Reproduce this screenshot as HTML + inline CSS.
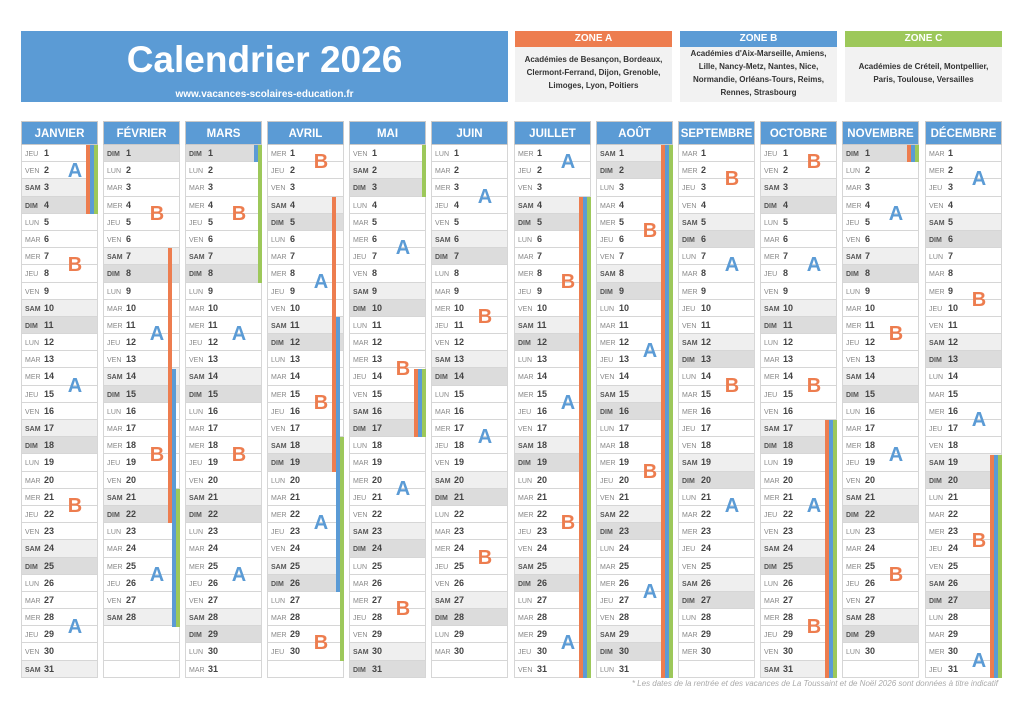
<!DOCTYPE html>
<html><head><meta charset="utf-8"><style>
*{margin:0;padding:0;box-sizing:border-box}
body{width:1024px;height:723px;background:#fff;position:relative;overflow:hidden;font-family:"Liberation Sans",sans-serif}
.title{position:absolute;left:21px;top:31px;width:487px;height:71px;background:#5b9bd5;color:#fff;text-align:center}
.title h1{font-size:37px;font-weight:bold;line-height:40px;margin-top:9px}
.title p{font-size:10px;font-weight:bold;margin-top:9px}
.zone{position:absolute;top:31px;width:157px;height:71px;background:#f2f2f2;text-align:center;font-size:8px;font-weight:bold;color:#333;line-height:13px}
.zone div{color:#fff;font-size:10px;height:16px;line-height:16px;margin-bottom:6px}
.col{position:absolute;top:121px;width:77px}
.h{height:24px;background:#5b9bd5;color:#fff;font-weight:bold;font-size:11.5px;line-height:24px;text-align:center;border:1px solid #c9c9c9;white-space:nowrap;overflow:hidden}
.r{height:17.2px;border:1px solid #d6d6d6;border-top:none;font-size:7px;line-height:16px;color:#888;white-space:nowrap;overflow:hidden}
.r i{font-style:normal;display:inline-block;width:22px;padding-left:3px}
.r b{color:#444;font-size:9px}
.s{background:#efefef}.d{background:#dcdcdc}.s i,.d i{font-weight:bold;color:#555}
.bar{position:absolute;width:4px}
.o{background:#ed7d4f;left:65px}.bl{background:#5b9bd5;left:69px}.g{background:#9dc85a;left:73px}
.L{position:absolute;left:44px;width:20px;height:22px;line-height:22px;text-align:center;font-size:20px;font-weight:bold}
.A{color:#5b9bd5}.B{color:#ed7d4f}
.note{position:absolute;left:500px;top:679px;width:498px;text-align:right;font-size:8px;font-style:italic;color:#aaa}
</style></head><body>
<div class="title"><h1>Calendrier 2026</h1><p>www.vacances-scolaires-education.fr</p></div>
<div class="zone" style="left:515px"><div style="background:#ed7d4f">ZONE A</div>Académies de Besançon, Bordeaux,<br>Clermont-Ferrand, Dijon, Grenoble,<br>Limoges, Lyon, Poitiers</div>
<div class="zone" style="left:680px"><div style="background:#5b9bd5;margin-bottom:0">ZONE B</div>Académies d'Aix-Marseille, Amiens,<br>Lille, Nancy-Metz, Nantes, Nice,<br>Normandie, Orléans-Tours, Reims,<br>Rennes, Strasbourg</div>
<div class="zone" style="left:845px"><div style="background:#9dc85a;margin-bottom:13px">ZONE C</div>Académies de Créteil, Montpellier,<br>Paris, Toulouse, Versailles</div>

<!-- JANVIER -->
<div class="col" style="left:21px"><div class="h">JANVIER</div>
<div class="r"><i>JEU</i><b>1</b></div><div class="r"><i>VEN</i><b>2</b></div><div class="r s"><i>SAM</i><b>3</b></div><div class="r d"><i>DIM</i><b>4</b></div>
<div class="r"><i>LUN</i><b>5</b></div><div class="r"><i>MAR</i><b>6</b></div><div class="r"><i>MER</i><b>7</b></div><div class="r"><i>JEU</i><b>8</b></div><div class="r"><i>VEN</i><b>9</b></div><div class="r s"><i>SAM</i><b>10</b></div><div class="r d"><i>DIM</i><b>11</b></div>
<div class="r"><i>LUN</i><b>12</b></div><div class="r"><i>MAR</i><b>13</b></div><div class="r"><i>MER</i><b>14</b></div><div class="r"><i>JEU</i><b>15</b></div><div class="r"><i>VEN</i><b>16</b></div><div class="r s"><i>SAM</i><b>17</b></div><div class="r d"><i>DIM</i><b>18</b></div>
<div class="r"><i>LUN</i><b>19</b></div><div class="r"><i>MAR</i><b>20</b></div><div class="r"><i>MER</i><b>21</b></div><div class="r"><i>JEU</i><b>22</b></div><div class="r"><i>VEN</i><b>23</b></div><div class="r s"><i>SAM</i><b>24</b></div><div class="r d"><i>DIM</i><b>25</b></div>
<div class="r"><i>LUN</i><b>26</b></div><div class="r"><i>MAR</i><b>27</b></div><div class="r"><i>MER</i><b>28</b></div><div class="r"><i>JEU</i><b>29</b></div><div class="r"><i>VEN</i><b>30</b></div><div class="r s"><i>SAM</i><b>31</b></div>
<div class="bar o" style="top:24px;height:68.8px"></div><div class="bar bl" style="top:24px;height:68.8px"></div><div class="bar g" style="top:24px;height:68.8px"></div>
<div class="L A" style="top:39px">A</div><div class="L B" style="top:133px">B</div><div class="L A" style="top:254px">A</div><div class="L B" style="top:374px">B</div><div class="L A" style="top:495px">A</div>
</div>

<!-- FEVRIER -->
<div class="col" style="left:103px"><div class="h">FÉVRIER</div>
<div class="r d"><i>DIM</i><b>1</b></div>
<div class="r"><i>LUN</i><b>2</b></div><div class="r"><i>MAR</i><b>3</b></div><div class="r"><i>MER</i><b>4</b></div><div class="r"><i>JEU</i><b>5</b></div><div class="r"><i>VEN</i><b>6</b></div><div class="r s"><i>SAM</i><b>7</b></div><div class="r d"><i>DIM</i><b>8</b></div>
<div class="r"><i>LUN</i><b>9</b></div><div class="r"><i>MAR</i><b>10</b></div><div class="r"><i>MER</i><b>11</b></div><div class="r"><i>JEU</i><b>12</b></div><div class="r"><i>VEN</i><b>13</b></div><div class="r s"><i>SAM</i><b>14</b></div><div class="r d"><i>DIM</i><b>15</b></div>
<div class="r"><i>LUN</i><b>16</b></div><div class="r"><i>MAR</i><b>17</b></div><div class="r"><i>MER</i><b>18</b></div><div class="r"><i>JEU</i><b>19</b></div><div class="r"><i>VEN</i><b>20</b></div><div class="r s"><i>SAM</i><b>21</b></div><div class="r d"><i>DIM</i><b>22</b></div>
<div class="r"><i>LUN</i><b>23</b></div><div class="r"><i>MAR</i><b>24</b></div><div class="r"><i>MER</i><b>25</b></div><div class="r"><i>JEU</i><b>26</b></div><div class="r"><i>VEN</i><b>27</b></div><div class="r s"><i>SAM</i><b>28</b></div>
<div class="r"></div><div class="r"></div><div class="r"></div>
<div class="bar o" style="top:127.2px;height:275.2px"></div><div class="bar bl" style="top:247.6px;height:258px"></div><div class="bar g" style="top:368px;height:137.6px"></div>
<div class="L B" style="top:82px">B</div><div class="L A" style="top:202px">A</div><div class="L B" style="top:323px">B</div><div class="L A" style="top:443px">A</div>
</div>

<!-- MARS -->
<div class="col" style="left:185px"><div class="h">MARS</div>
<div class="r d"><i>DIM</i><b>1</b></div>
<div class="r"><i>LUN</i><b>2</b></div><div class="r"><i>MAR</i><b>3</b></div><div class="r"><i>MER</i><b>4</b></div><div class="r"><i>JEU</i><b>5</b></div><div class="r"><i>VEN</i><b>6</b></div><div class="r s"><i>SAM</i><b>7</b></div><div class="r d"><i>DIM</i><b>8</b></div>
<div class="r"><i>LUN</i><b>9</b></div><div class="r"><i>MAR</i><b>10</b></div><div class="r"><i>MER</i><b>11</b></div><div class="r"><i>JEU</i><b>12</b></div><div class="r"><i>VEN</i><b>13</b></div><div class="r s"><i>SAM</i><b>14</b></div><div class="r d"><i>DIM</i><b>15</b></div>
<div class="r"><i>LUN</i><b>16</b></div><div class="r"><i>MAR</i><b>17</b></div><div class="r"><i>MER</i><b>18</b></div><div class="r"><i>JEU</i><b>19</b></div><div class="r"><i>VEN</i><b>20</b></div><div class="r s"><i>SAM</i><b>21</b></div><div class="r d"><i>DIM</i><b>22</b></div>
<div class="r"><i>LUN</i><b>23</b></div><div class="r"><i>MAR</i><b>24</b></div><div class="r"><i>MER</i><b>25</b></div><div class="r"><i>JEU</i><b>26</b></div><div class="r"><i>VEN</i><b>27</b></div><div class="r s"><i>SAM</i><b>28</b></div><div class="r d"><i>DIM</i><b>29</b></div>
<div class="r"><i>LUN</i><b>30</b></div><div class="r"><i>MAR</i><b>31</b></div>
<div class="bar bl" style="top:24px;height:17.2px"></div><div class="bar g" style="top:24px;height:137.6px"></div>
<div class="L B" style="top:82px">B</div><div class="L A" style="top:202px">A</div><div class="L B" style="top:323px">B</div><div class="L A" style="top:443px">A</div>
</div>

<!-- AVRIL -->
<div class="col" style="left:267px"><div class="h">AVRIL</div>
<div class="r"><i>MER</i><b>1</b></div><div class="r"><i>JEU</i><b>2</b></div><div class="r"><i>VEN</i><b>3</b></div><div class="r s"><i>SAM</i><b>4</b></div><div class="r d"><i>DIM</i><b>5</b></div>
<div class="r"><i>LUN</i><b>6</b></div><div class="r"><i>MAR</i><b>7</b></div><div class="r"><i>MER</i><b>8</b></div><div class="r"><i>JEU</i><b>9</b></div><div class="r"><i>VEN</i><b>10</b></div><div class="r s"><i>SAM</i><b>11</b></div><div class="r d"><i>DIM</i><b>12</b></div>
<div class="r"><i>LUN</i><b>13</b></div><div class="r"><i>MAR</i><b>14</b></div><div class="r"><i>MER</i><b>15</b></div><div class="r"><i>JEU</i><b>16</b></div><div class="r"><i>VEN</i><b>17</b></div><div class="r s"><i>SAM</i><b>18</b></div><div class="r d"><i>DIM</i><b>19</b></div>
<div class="r"><i>LUN</i><b>20</b></div><div class="r"><i>MAR</i><b>21</b></div><div class="r"><i>MER</i><b>22</b></div><div class="r"><i>JEU</i><b>23</b></div><div class="r"><i>VEN</i><b>24</b></div><div class="r s"><i>SAM</i><b>25</b></div><div class="r d"><i>DIM</i><b>26</b></div>
<div class="r"><i>LUN</i><b>27</b></div><div class="r"><i>MAR</i><b>28</b></div><div class="r"><i>MER</i><b>29</b></div><div class="r"><i>JEU</i><b>30</b></div><div class="r"></div>
<div class="bar o" style="top:75.6px;height:275.2px"></div><div class="bar bl" style="top:196px;height:275.2px"></div><div class="bar g" style="top:316.4px;height:223.6px"></div>
<div class="L B" style="top:30px">B</div><div class="L A" style="top:150px">A</div><div class="L B" style="top:271px">B</div><div class="L A" style="top:391px">A</div><div class="L B" style="top:511px">B</div>
</div>

<!-- MAI -->
<div class="col" style="left:349px"><div class="h">MAI</div>
<div class="r"><i>VEN</i><b>1</b></div><div class="r s"><i>SAM</i><b>2</b></div><div class="r d"><i>DIM</i><b>3</b></div>
<div class="r"><i>LUN</i><b>4</b></div><div class="r"><i>MAR</i><b>5</b></div><div class="r"><i>MER</i><b>6</b></div><div class="r"><i>JEU</i><b>7</b></div><div class="r"><i>VEN</i><b>8</b></div><div class="r s"><i>SAM</i><b>9</b></div><div class="r d"><i>DIM</i><b>10</b></div>
<div class="r"><i>LUN</i><b>11</b></div><div class="r"><i>MAR</i><b>12</b></div><div class="r"><i>MER</i><b>13</b></div><div class="r"><i>JEU</i><b>14</b></div><div class="r"><i>VEN</i><b>15</b></div><div class="r s"><i>SAM</i><b>16</b></div><div class="r d"><i>DIM</i><b>17</b></div>
<div class="r"><i>LUN</i><b>18</b></div><div class="r"><i>MAR</i><b>19</b></div><div class="r"><i>MER</i><b>20</b></div><div class="r"><i>JEU</i><b>21</b></div><div class="r"><i>VEN</i><b>22</b></div><div class="r s"><i>SAM</i><b>23</b></div><div class="r d"><i>DIM</i><b>24</b></div>
<div class="r"><i>LUN</i><b>25</b></div><div class="r"><i>MAR</i><b>26</b></div><div class="r"><i>MER</i><b>27</b></div><div class="r"><i>JEU</i><b>28</b></div><div class="r"><i>VEN</i><b>29</b></div><div class="r s"><i>SAM</i><b>30</b></div><div class="r d"><i>DIM</i><b>31</b></div>
<div class="bar g" style="top:24px;height:51.6px"></div>
<div class="bar o" style="top:247.6px;height:68.8px"></div><div class="bar bl" style="top:247.6px;height:68.8px"></div><div class="bar g" style="top:247.6px;height:68.8px"></div>
<div class="L A" style="top:116px">A</div><div class="L B" style="top:237px">B</div><div class="L A" style="top:357px">A</div><div class="L B" style="top:477px">B</div>
</div>

<!-- JUIN -->
<div class="col" style="left:431px"><div class="h">JUIN</div>
<div class="r"><i>LUN</i><b>1</b></div><div class="r"><i>MAR</i><b>2</b></div><div class="r"><i>MER</i><b>3</b></div><div class="r"><i>JEU</i><b>4</b></div><div class="r"><i>VEN</i><b>5</b></div><div class="r s"><i>SAM</i><b>6</b></div><div class="r d"><i>DIM</i><b>7</b></div>
<div class="r"><i>LUN</i><b>8</b></div><div class="r"><i>MAR</i><b>9</b></div><div class="r"><i>MER</i><b>10</b></div><div class="r"><i>JEU</i><b>11</b></div><div class="r"><i>VEN</i><b>12</b></div><div class="r s"><i>SAM</i><b>13</b></div><div class="r d"><i>DIM</i><b>14</b></div>
<div class="r"><i>LUN</i><b>15</b></div><div class="r"><i>MAR</i><b>16</b></div><div class="r"><i>MER</i><b>17</b></div><div class="r"><i>JEU</i><b>18</b></div><div class="r"><i>VEN</i><b>19</b></div><div class="r s"><i>SAM</i><b>20</b></div><div class="r d"><i>DIM</i><b>21</b></div>
<div class="r"><i>LUN</i><b>22</b></div><div class="r"><i>MAR</i><b>23</b></div><div class="r"><i>MER</i><b>24</b></div><div class="r"><i>JEU</i><b>25</b></div><div class="r"><i>VEN</i><b>26</b></div><div class="r s"><i>SAM</i><b>27</b></div><div class="r d"><i>DIM</i><b>28</b></div>
<div class="r"><i>LUN</i><b>29</b></div><div class="r"><i>MAR</i><b>30</b></div><div class="r"></div>
<div class="L A" style="top:65px">A</div><div class="L B" style="top:185px">B</div><div class="L A" style="top:305px">A</div><div class="L B" style="top:426px">B</div>
</div>

<!-- JUILLET -->
<div class="col" style="left:514px"><div class="h">JUILLET</div>
<div class="r"><i>MER</i><b>1</b></div><div class="r"><i>JEU</i><b>2</b></div><div class="r"><i>VEN</i><b>3</b></div><div class="r s"><i>SAM</i><b>4</b></div><div class="r d"><i>DIM</i><b>5</b></div>
<div class="r"><i>LUN</i><b>6</b></div><div class="r"><i>MAR</i><b>7</b></div><div class="r"><i>MER</i><b>8</b></div><div class="r"><i>JEU</i><b>9</b></div><div class="r"><i>VEN</i><b>10</b></div><div class="r s"><i>SAM</i><b>11</b></div><div class="r d"><i>DIM</i><b>12</b></div>
<div class="r"><i>LUN</i><b>13</b></div><div class="r"><i>MAR</i><b>14</b></div><div class="r"><i>MER</i><b>15</b></div><div class="r"><i>JEU</i><b>16</b></div><div class="r"><i>VEN</i><b>17</b></div><div class="r s"><i>SAM</i><b>18</b></div><div class="r d"><i>DIM</i><b>19</b></div>
<div class="r"><i>LUN</i><b>20</b></div><div class="r"><i>MAR</i><b>21</b></div><div class="r"><i>MER</i><b>22</b></div><div class="r"><i>JEU</i><b>23</b></div><div class="r"><i>VEN</i><b>24</b></div><div class="r s"><i>SAM</i><b>25</b></div><div class="r d"><i>DIM</i><b>26</b></div>
<div class="r"><i>LUN</i><b>27</b></div><div class="r"><i>MAR</i><b>28</b></div><div class="r"><i>MER</i><b>29</b></div><div class="r"><i>JEU</i><b>30</b></div><div class="r"><i>VEN</i><b>31</b></div>
<div class="bar o" style="top:75.6px;height:481.6px"></div><div class="bar bl" style="top:75.6px;height:481.6px"></div><div class="bar g" style="top:75.6px;height:481.6px"></div>
<div class="L A" style="top:30px">A</div><div class="L B" style="top:150px">B</div><div class="L A" style="top:271px">A</div><div class="L B" style="top:391px">B</div><div class="L A" style="top:511px">A</div>
</div>

<!-- AOUT -->
<div class="col" style="left:596px"><div class="h">AOÛT</div>
<div class="r s"><i>SAM</i><b>1</b></div><div class="r d"><i>DIM</i><b>2</b></div>
<div class="r"><i>LUN</i><b>3</b></div><div class="r"><i>MAR</i><b>4</b></div><div class="r"><i>MER</i><b>5</b></div><div class="r"><i>JEU</i><b>6</b></div><div class="r"><i>VEN</i><b>7</b></div><div class="r s"><i>SAM</i><b>8</b></div><div class="r d"><i>DIM</i><b>9</b></div>
<div class="r"><i>LUN</i><b>10</b></div><div class="r"><i>MAR</i><b>11</b></div><div class="r"><i>MER</i><b>12</b></div><div class="r"><i>JEU</i><b>13</b></div><div class="r"><i>VEN</i><b>14</b></div><div class="r s"><i>SAM</i><b>15</b></div><div class="r d"><i>DIM</i><b>16</b></div>
<div class="r"><i>LUN</i><b>17</b></div><div class="r"><i>MAR</i><b>18</b></div><div class="r"><i>MER</i><b>19</b></div><div class="r"><i>JEU</i><b>20</b></div><div class="r"><i>VEN</i><b>21</b></div><div class="r s"><i>SAM</i><b>22</b></div><div class="r d"><i>DIM</i><b>23</b></div>
<div class="r"><i>LUN</i><b>24</b></div><div class="r"><i>MAR</i><b>25</b></div><div class="r"><i>MER</i><b>26</b></div><div class="r"><i>JEU</i><b>27</b></div><div class="r"><i>VEN</i><b>28</b></div><div class="r s"><i>SAM</i><b>29</b></div><div class="r d"><i>DIM</i><b>30</b></div>
<div class="r"><i>LUN</i><b>31</b></div>
<div class="bar o" style="top:24px;height:533.2px"></div><div class="bar bl" style="top:24px;height:533.2px"></div><div class="bar g" style="top:24px;height:533.2px"></div>
<div class="L B" style="top:99px">B</div><div class="L A" style="top:219px">A</div><div class="L B" style="top:340px">B</div><div class="L A" style="top:460px">A</div>
</div>

<!-- SEPTEMBRE -->
<div class="col" style="left:678px"><div class="h">SEPTEMBRE</div>
<div class="r"><i>MAR</i><b>1</b></div><div class="r"><i>MER</i><b>2</b></div><div class="r"><i>JEU</i><b>3</b></div><div class="r"><i>VEN</i><b>4</b></div><div class="r s"><i>SAM</i><b>5</b></div><div class="r d"><i>DIM</i><b>6</b></div>
<div class="r"><i>LUN</i><b>7</b></div><div class="r"><i>MAR</i><b>8</b></div><div class="r"><i>MER</i><b>9</b></div><div class="r"><i>JEU</i><b>10</b></div><div class="r"><i>VEN</i><b>11</b></div><div class="r s"><i>SAM</i><b>12</b></div><div class="r d"><i>DIM</i><b>13</b></div>
<div class="r"><i>LUN</i><b>14</b></div><div class="r"><i>MAR</i><b>15</b></div><div class="r"><i>MER</i><b>16</b></div><div class="r"><i>JEU</i><b>17</b></div><div class="r"><i>VEN</i><b>18</b></div><div class="r s"><i>SAM</i><b>19</b></div><div class="r d"><i>DIM</i><b>20</b></div>
<div class="r"><i>LUN</i><b>21</b></div><div class="r"><i>MAR</i><b>22</b></div><div class="r"><i>MER</i><b>23</b></div><div class="r"><i>JEU</i><b>24</b></div><div class="r"><i>VEN</i><b>25</b></div><div class="r s"><i>SAM</i><b>26</b></div><div class="r d"><i>DIM</i><b>27</b></div>
<div class="r"><i>LUN</i><b>28</b></div><div class="r"><i>MAR</i><b>29</b></div><div class="r"><i>MER</i><b>30</b></div><div class="r"></div>
<div class="L B" style="top:47px">B</div><div class="L A" style="top:133px">A</div><div class="L B" style="top:254px">B</div><div class="L A" style="top:374px">A</div>
</div>

<!-- OCTOBRE -->
<div class="col" style="left:760px"><div class="h">OCTOBRE</div>
<div class="r"><i>JEU</i><b>1</b></div><div class="r"><i>VEN</i><b>2</b></div><div class="r s"><i>SAM</i><b>3</b></div><div class="r d"><i>DIM</i><b>4</b></div>
<div class="r"><i>LUN</i><b>5</b></div><div class="r"><i>MAR</i><b>6</b></div><div class="r"><i>MER</i><b>7</b></div><div class="r"><i>JEU</i><b>8</b></div><div class="r"><i>VEN</i><b>9</b></div><div class="r s"><i>SAM</i><b>10</b></div><div class="r d"><i>DIM</i><b>11</b></div>
<div class="r"><i>LUN</i><b>12</b></div><div class="r"><i>MAR</i><b>13</b></div><div class="r"><i>MER</i><b>14</b></div><div class="r"><i>JEU</i><b>15</b></div><div class="r"><i>VEN</i><b>16</b></div><div class="r s"><i>SAM</i><b>17</b></div><div class="r d"><i>DIM</i><b>18</b></div>
<div class="r"><i>LUN</i><b>19</b></div><div class="r"><i>MAR</i><b>20</b></div><div class="r"><i>MER</i><b>21</b></div><div class="r"><i>JEU</i><b>22</b></div><div class="r"><i>VEN</i><b>23</b></div><div class="r s"><i>SAM</i><b>24</b></div><div class="r d"><i>DIM</i><b>25</b></div>
<div class="r"><i>LUN</i><b>26</b></div><div class="r"><i>MAR</i><b>27</b></div><div class="r"><i>MER</i><b>28</b></div><div class="r"><i>JEU</i><b>29</b></div><div class="r"><i>VEN</i><b>30</b></div><div class="r s"><i>SAM</i><b>31</b></div>
<div class="bar o" style="top:299.2px;height:258px"></div><div class="bar bl" style="top:299.2px;height:258px"></div><div class="bar g" style="top:299.2px;height:258px"></div>
<div class="L B" style="top:30px">B</div><div class="L A" style="top:133px">A</div><div class="L B" style="top:254px">B</div><div class="L A" style="top:374px">A</div><div class="L B" style="top:495px">B</div>
</div>

<!-- NOVEMBRE -->
<div class="col" style="left:842px"><div class="h">NOVEMBRE</div>
<div class="r d"><i>DIM</i><b>1</b></div>
<div class="r"><i>LUN</i><b>2</b></div><div class="r"><i>MAR</i><b>3</b></div><div class="r"><i>MER</i><b>4</b></div><div class="r"><i>JEU</i><b>5</b></div><div class="r"><i>VEN</i><b>6</b></div><div class="r s"><i>SAM</i><b>7</b></div><div class="r d"><i>DIM</i><b>8</b></div>
<div class="r"><i>LUN</i><b>9</b></div><div class="r"><i>MAR</i><b>10</b></div><div class="r"><i>MER</i><b>11</b></div><div class="r"><i>JEU</i><b>12</b></div><div class="r"><i>VEN</i><b>13</b></div><div class="r s"><i>SAM</i><b>14</b></div><div class="r d"><i>DIM</i><b>15</b></div>
<div class="r"><i>LUN</i><b>16</b></div><div class="r"><i>MAR</i><b>17</b></div><div class="r"><i>MER</i><b>18</b></div><div class="r"><i>JEU</i><b>19</b></div><div class="r"><i>VEN</i><b>20</b></div><div class="r s"><i>SAM</i><b>21</b></div><div class="r d"><i>DIM</i><b>22</b></div>
<div class="r"><i>LUN</i><b>23</b></div><div class="r"><i>MAR</i><b>24</b></div><div class="r"><i>MER</i><b>25</b></div><div class="r"><i>JEU</i><b>26</b></div><div class="r"><i>VEN</i><b>27</b></div><div class="r s"><i>SAM</i><b>28</b></div><div class="r d"><i>DIM</i><b>29</b></div>
<div class="r"><i>LUN</i><b>30</b></div><div class="r"></div>
<div class="bar o" style="top:24px;height:17.2px"></div><div class="bar bl" style="top:24px;height:17.2px"></div><div class="bar g" style="top:24px;height:17.2px"></div>
<div class="L A" style="top:82px">A</div><div class="L B" style="top:202px">B</div><div class="L A" style="top:323px">A</div><div class="L B" style="top:443px">B</div>
</div>

<!-- DECEMBRE -->
<div class="col" style="left:925px"><div class="h">DÉCEMBRE</div>
<div class="r"><i>MAR</i><b>1</b></div><div class="r"><i>MER</i><b>2</b></div><div class="r"><i>JEU</i><b>3</b></div><div class="r"><i>VEN</i><b>4</b></div><div class="r s"><i>SAM</i><b>5</b></div><div class="r d"><i>DIM</i><b>6</b></div>
<div class="r"><i>LUN</i><b>7</b></div><div class="r"><i>MAR</i><b>8</b></div><div class="r"><i>MER</i><b>9</b></div><div class="r"><i>JEU</i><b>10</b></div><div class="r"><i>VEN</i><b>11</b></div><div class="r s"><i>SAM</i><b>12</b></div><div class="r d"><i>DIM</i><b>13</b></div>
<div class="r"><i>LUN</i><b>14</b></div><div class="r"><i>MAR</i><b>15</b></div><div class="r"><i>MER</i><b>16</b></div><div class="r"><i>JEU</i><b>17</b></div><div class="r"><i>VEN</i><b>18</b></div><div class="r s"><i>SAM</i><b>19</b></div><div class="r d"><i>DIM</i><b>20</b></div>
<div class="r"><i>LUN</i><b>21</b></div><div class="r"><i>MAR</i><b>22</b></div><div class="r"><i>MER</i><b>23</b></div><div class="r"><i>JEU</i><b>24</b></div><div class="r"><i>VEN</i><b>25</b></div><div class="r s"><i>SAM</i><b>26</b></div><div class="r d"><i>DIM</i><b>27</b></div>
<div class="r"><i>LUN</i><b>28</b></div><div class="r"><i>MAR</i><b>29</b></div><div class="r"><i>MER</i><b>30</b></div><div class="r"><i>JEU</i><b>31</b></div>
<div class="bar o" style="top:333.6px;height:223.6px"></div><div class="bar bl" style="top:333.6px;height:223.6px"></div><div class="bar g" style="top:333.6px;height:223.6px"></div>
<div class="L A" style="top:47px">A</div><div class="L B" style="top:168px">B</div><div class="L A" style="top:288px">A</div><div class="L B" style="top:409px">B</div><div class="L A" style="top:529px">A</div>
</div>

<div class="note">* Les dates de la rentrée et des vacances de La Toussaint et de Noël 2026 sont données à titre indicatif</div>
</body></html>
